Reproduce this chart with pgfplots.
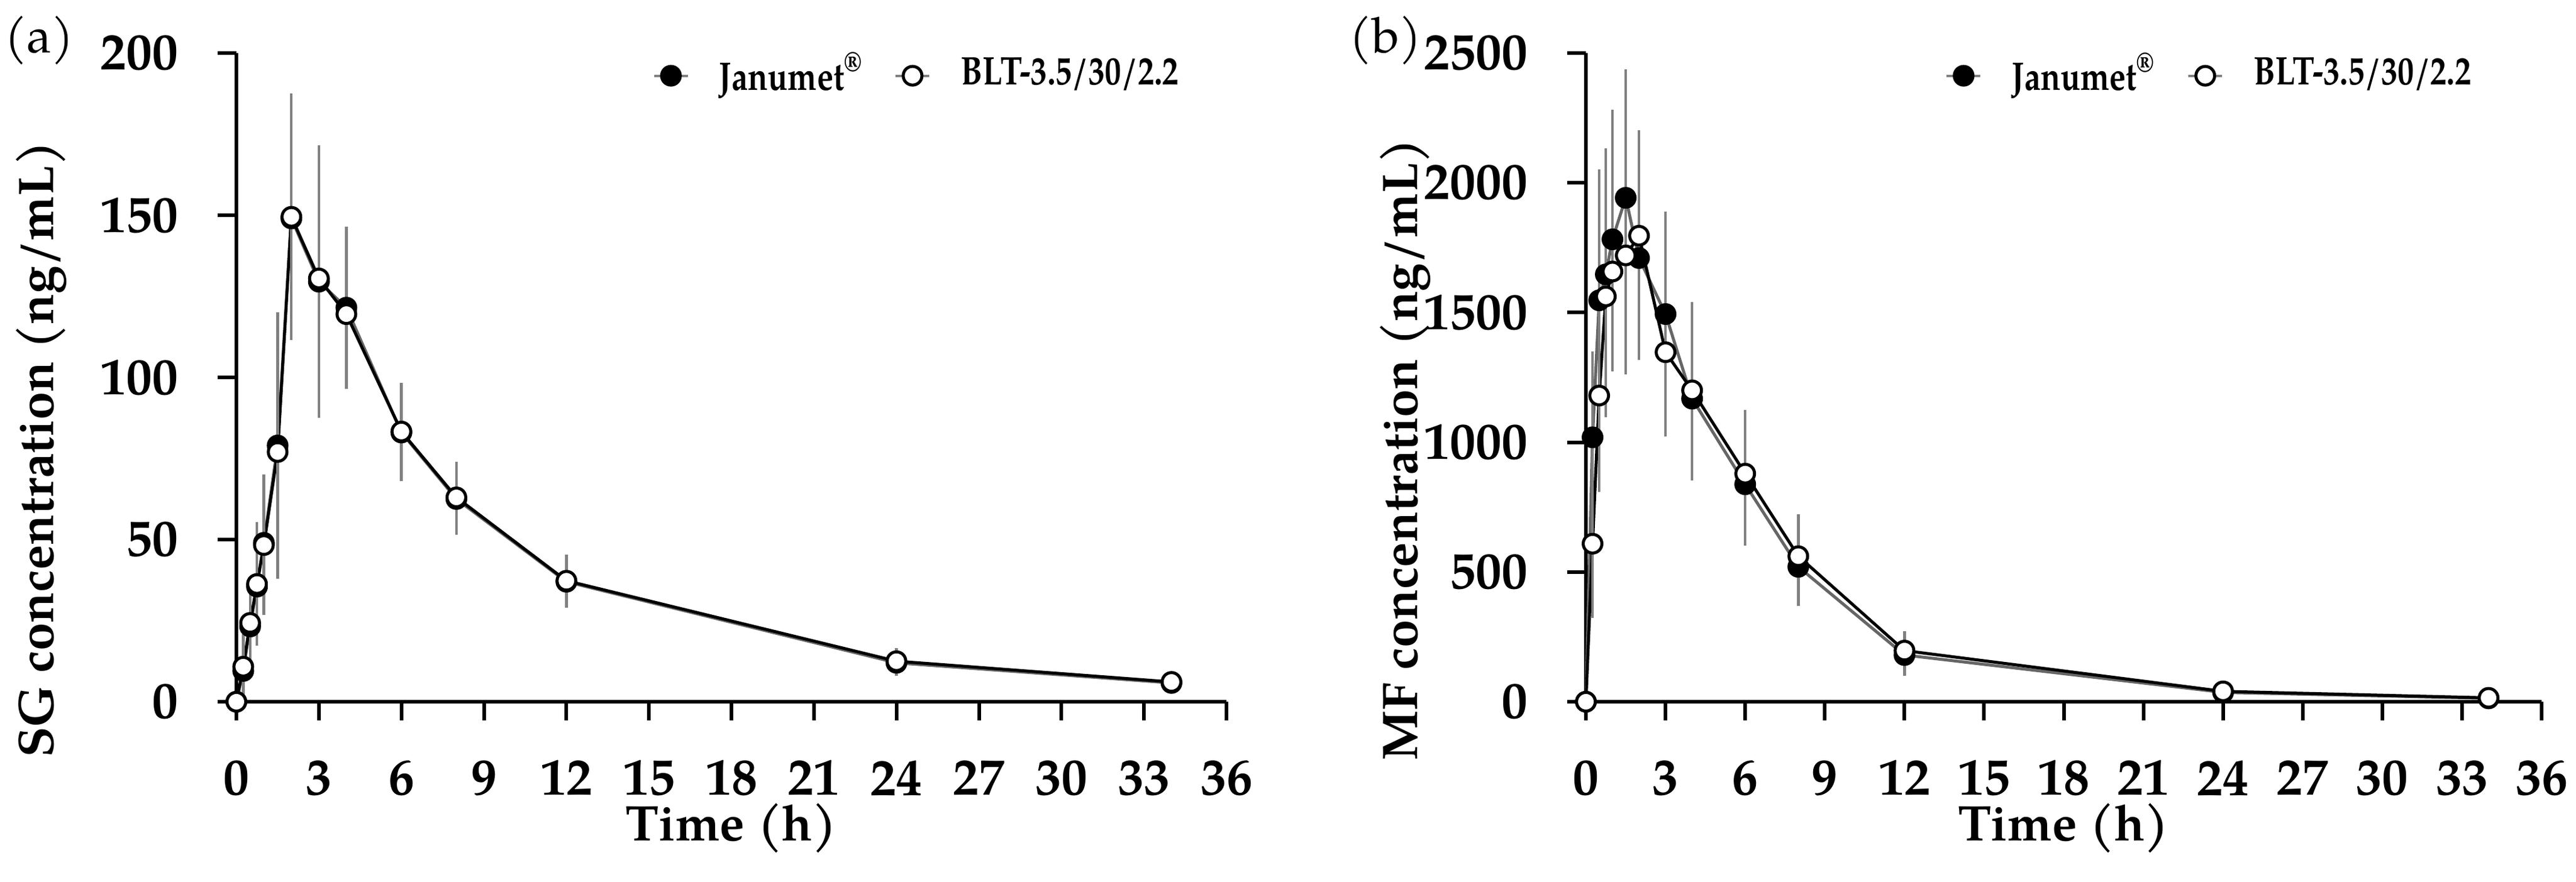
\documentclass[border=0pt]{standalone}
\usepackage{fontspec}
\setmainfont{TeX Gyre Pagella}
\newfontfamily\legfont{TeX Gyre Pagella}[FakeStretch=0.82]
\usepackage{pgfplots}
\pgfplotsset{compat=1.18}
\usepackage{pgfplotstable}

\pgfplotstableread{
t     j      je    b      be
0     0      0     0      0
0.25  9.5    5     10.8   8
0.5   23.2   9     24.3   8
0.75  35.5   15    36.3   17
1     49     19    48.3   19.5
1.5   79     39    77     35
2     149    33    149.5  36
3     129.5  40    130.5  32
4     121.5  23    119.5  21
6     83     13    83.3   13
8     62.5   9     63     9
12    37     6     37.3   6
24    12     2     12.5   2
34    5.8    1     6.1    1.2
}\sgdata

\pgfplotstableread{
t     j      je    b      be
0     0      0     0      0
0.25  1019   305   609    260
0.5   1547   480   1180   345
0.75  1647   460   1562   440
1     1782   474   1658   360
1.5   1942   469   1720   432
2     1710   368   1796   382
3     1494   370   1347   300
4     1168   290   1200   315
6     838    210   879    221
8     520    125   561    137
12    180    55    197    50
24    36     10    40     12
34    13     4     15     5
}\mfdata

\definecolor{errgray}{gray}{0.5}

\pgfplotsset{
  pkstyle/.style={
    scale only axis,
    height=107.6pt,
    xmin=0, xmax=36, ymin=0,
    xtick={0,3,...,36},
    axis x line*=bottom,
    axis y line*=left,
    axis line style={line width=0.6pt,-},
    tick style={line width=0.6pt,black},
    tick align=outside,
    major tick length=3.1pt,
    clip=false,
    /pgf/number format/assume math mode=true,
    /pgf/number format/1000 sep={},
    ticklabel style={font=\bfseries\fontsize{8.6}{10}\selectfont},
    xticklabel style={yshift=-3.1pt},
    yticklabel style={xshift=-3pt},
    label style={font=\bfseries\fontsize{8.3}{10}\selectfont},
    legend style={draw=none, fill=none, font=\legfont\bfseries\fontsize{6.6}{7.5}\selectfont,
      legend columns=2, column sep=4pt, inner sep=0pt, anchor=east,
      nodes={inner sep=1pt}},
    legend cell align=left,
    legend image code/.code={
      \draw[errgray,line width=0.4pt] (0pt,0pt) -- (5.6pt,0pt);
      \draw[mark repeat=1] plot coordinates {(2.8pt,0pt)};
    },
    error bars/error bar style={errgray, line width=0.45pt},
    error bars/error mark options={errgray, line width=0.45pt, mark size=1.1pt},
  },
  jan/.style={black!60, line width=0.5pt, mark=*, mark size=1.55pt,
     mark options={draw=black, fill=black, line width=0.5pt},
     error bars/.cd, y dir=both, y explicit},
  blt/.style={black, line width=0.5pt, mark=*, mark size=1.55pt,
     mark options={draw=black, fill=white, line width=0.5pt},
     error bars/.cd, y dir=both, y explicit},
}

\begin{document}
\begin{tikzpicture}
\path[use as bounding box] (0,0) rectangle (427.2pt,146.3pt);

\begin{axis}[pkstyle,
  at={(39.2pt,29.9pt)}, anchor=south west,
  width=164.2pt,
  ymax=200, ytick={0,50,...,200},
  ylabel={SG concentration (ng/mL)},
  xlabel={Time (h)},
  ylabel style={at={(axis description cs:-0.197,0.389)}, anchor=center},
  xlabel style={at={(axis description cs:0.5,-0.195)}, anchor=center},
  legend style={at={(axis description cs:0.959,0.965)}},
]
\addplot[jan] table[x=t, y=j, y error=je] {\sgdata};
\addlegendentry{Janumet\textsuperscript{\textregistered}}
\addplot[blt] table[x=t, y=b, y error=be] {\sgdata};
\addlegendentry{BLT-3.5/30/2.2}
\end{axis}

\begin{axis}[pkstyle,
  at={(263pt,29.9pt)}, anchor=south west,
  width=158.5pt,
  ymax=2500, ytick={0,500,...,2500},
  ylabel={MF concentration (ng/mL)},
  xlabel={Time (h)},
  ylabel style={at={(axis description cs:-0.189,0.389)}, anchor=center},
  xlabel style={at={(axis description cs:0.5,-0.195)}, anchor=center},
  legend style={at={(axis description cs:0.934,0.965)}},
]
\addplot[jan] table[x=t, y=j, y error=je] {\mfdata};
\addlegendentry{Janumet\textsuperscript{\textregistered}}
\addplot[blt] table[x=t, y=b, y error=be] {\mfdata};
\addlegendentry{BLT-3.5/30/2.2}
\end{axis}

\node[font=\fontsize{8.2}{10}\selectfont] at (6.5pt,139.6pt) {(a)};
\node[font=\fontsize{8.2}{10}\selectfont] at (229.8pt,139.6pt) {(b)};
\end{tikzpicture}
\end{document}
